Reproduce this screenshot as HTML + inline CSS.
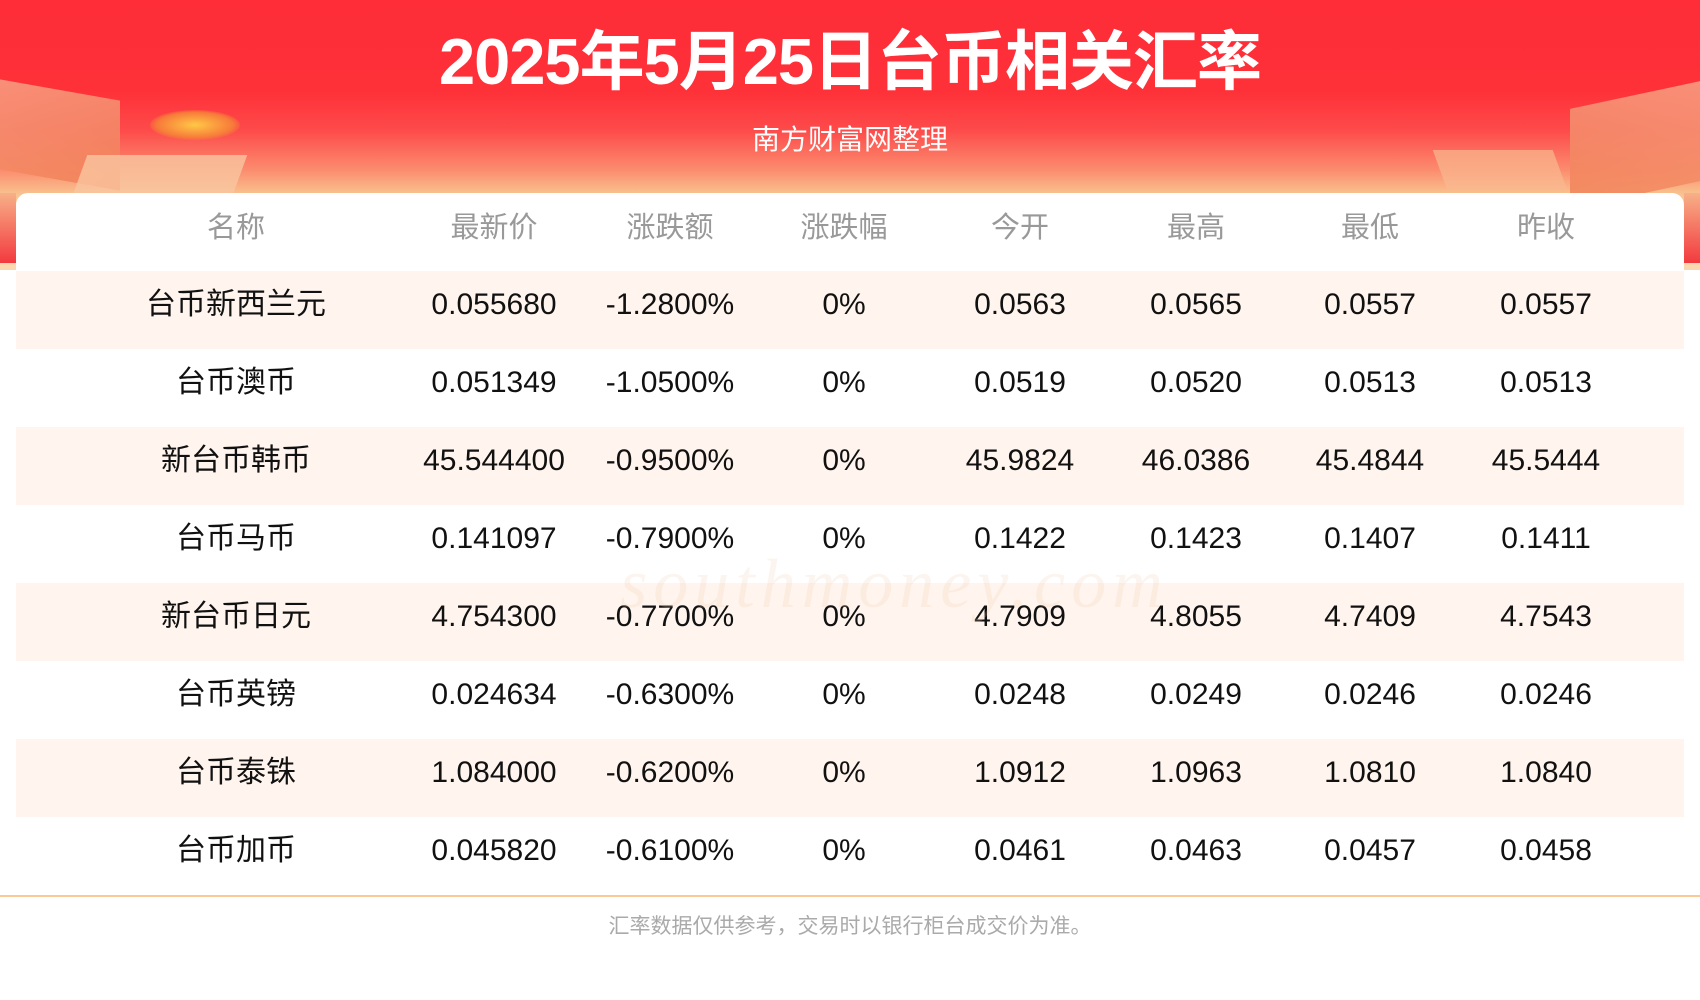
<!DOCTYPE html>
<html><head><meta charset="utf-8"><style>
html,body{margin:0;padding:0}
body{width:1700px;height:1000px;position:relative;overflow:hidden;background:#fff;font-family:"Liberation Sans","Noto Sans CJK SC",sans-serif}
.bg{position:absolute;left:0;top:0;width:1700px;height:270px;background:linear-gradient(180deg,#fe2d38 0px,#fe3038 90px,#fd4a4a 130px,#fb8c6e 170px,#f9c490 195px,#fbd9b0 270px)}
.title{position:absolute;left:0;width:1700px;top:22px;text-align:center;color:#fff;font-weight:bold;font-size:65px;line-height:80px;letter-spacing:-1px}
.sub{position:absolute;left:0;width:1700px;top:122px;text-align:center;color:#fff;font-size:28px;line-height:36px}
.card{position:absolute;left:16px;top:193px;width:1668px;height:720px;background:#fff;border-radius:12px 12px 0 0}
.row{position:absolute;left:16px;width:1668px;height:78px}
.alt{background:#fff5ee}
.c{position:absolute;top:-5px;transform:translateX(-50%);white-space:nowrap;font-size:30px;line-height:78px;color:#111}
.h .c{color:#999;top:-4px;font-size:29px}
.line{position:absolute;left:0;top:895px;width:1700px;height:2px;background:#fcc996}
.foot{position:absolute;left:0;width:1700px;top:912px;text-align:center;color:#aaa;font-size:21px;line-height:30px}
.wm{position:absolute;left:620px;top:545px;font-size:70px;color:rgba(240,200,170,0.2);font-family:"Liberation Serif",serif;font-style:italic;letter-spacing:6px}
</style></head><body>
<div class="bg"></div>
<div style="position:absolute;left:0;top:90px;width:120px;height:90px;background:linear-gradient(160deg,#f7a889,#f07a50);transform:skewY(10deg);opacity:.8"></div>
<div style="position:absolute;left:150px;top:110px;width:90px;height:30px;border-radius:50%;background:radial-gradient(#ffc845,#f77a3a 60%,transparent 75%)"></div>
<div style="position:absolute;left:80px;top:155px;width:160px;height:40px;background:#f9c5a0;opacity:.8;transform:skewX(-20deg)"></div>
<div style="position:absolute;left:1570px;top:95px;width:130px;height:100px;background:linear-gradient(200deg,#f7a889,#f07a50);transform:skewY(-12deg);opacity:.8"></div>
<div style="position:absolute;left:1440px;top:150px;width:120px;height:40px;background:#f9b890;opacity:.7;transform:skewX(20deg)"></div>
<div style="position:absolute;left:0;top:193px;width:16px;height:70px;background:linear-gradient(180deg,#f7b088,#f33a3f)"></div>
<div style="position:absolute;left:1684px;top:193px;width:16px;height:70px;background:linear-gradient(180deg,#f7b088,#f33a3f)"></div>
<div class="title">2025年5月25日台币相关汇率</div>
<div class="sub">南方财富网整理</div>
<div class="card"></div>
<div class="row h" style="top:193px">
<span class="c" style="left:220px">名称</span><span class="c" style="left:478px">最新价</span><span class="c" style="left:654px">涨跌额</span><span class="c" style="left:828px">涨跌幅</span><span class="c" style="left:1004px">今开</span><span class="c" style="left:1180px">最高</span><span class="c" style="left:1354px">最低</span><span class="c" style="left:1530px">昨收</span></div>

<div class="row alt" style="top:271px"><span class="c" style="left:220px">台币新西兰元</span><span class="c" style="left:478px">0.055680</span><span class="c" style="left:654px">-1.2800%</span><span class="c" style="left:828px">0%</span><span class="c" style="left:1004px">0.0563</span><span class="c" style="left:1180px">0.0565</span><span class="c" style="left:1354px">0.0557</span><span class="c" style="left:1530px">0.0557</span></div>
<div class="row" style="top:349px"><span class="c" style="left:220px">台币澳币</span><span class="c" style="left:478px">0.051349</span><span class="c" style="left:654px">-1.0500%</span><span class="c" style="left:828px">0%</span><span class="c" style="left:1004px">0.0519</span><span class="c" style="left:1180px">0.0520</span><span class="c" style="left:1354px">0.0513</span><span class="c" style="left:1530px">0.0513</span></div>
<div class="row alt" style="top:427px"><span class="c" style="left:220px">新台币韩币</span><span class="c" style="left:478px">45.544400</span><span class="c" style="left:654px">-0.9500%</span><span class="c" style="left:828px">0%</span><span class="c" style="left:1004px">45.9824</span><span class="c" style="left:1180px">46.0386</span><span class="c" style="left:1354px">45.4844</span><span class="c" style="left:1530px">45.5444</span></div>
<div class="row" style="top:505px"><span class="c" style="left:220px">台币马币</span><span class="c" style="left:478px">0.141097</span><span class="c" style="left:654px">-0.7900%</span><span class="c" style="left:828px">0%</span><span class="c" style="left:1004px">0.1422</span><span class="c" style="left:1180px">0.1423</span><span class="c" style="left:1354px">0.1407</span><span class="c" style="left:1530px">0.1411</span></div>
<div class="row alt" style="top:583px"><span class="c" style="left:220px">新台币日元</span><span class="c" style="left:478px">4.754300</span><span class="c" style="left:654px">-0.7700%</span><span class="c" style="left:828px">0%</span><span class="c" style="left:1004px">4.7909</span><span class="c" style="left:1180px">4.8055</span><span class="c" style="left:1354px">4.7409</span><span class="c" style="left:1530px">4.7543</span></div>
<div class="row" style="top:661px"><span class="c" style="left:220px">台币英镑</span><span class="c" style="left:478px">0.024634</span><span class="c" style="left:654px">-0.6300%</span><span class="c" style="left:828px">0%</span><span class="c" style="left:1004px">0.0248</span><span class="c" style="left:1180px">0.0249</span><span class="c" style="left:1354px">0.0246</span><span class="c" style="left:1530px">0.0246</span></div>
<div class="row alt" style="top:739px"><span class="c" style="left:220px">台币泰铢</span><span class="c" style="left:478px">1.084000</span><span class="c" style="left:654px">-0.6200%</span><span class="c" style="left:828px">0%</span><span class="c" style="left:1004px">1.0912</span><span class="c" style="left:1180px">1.0963</span><span class="c" style="left:1354px">1.0810</span><span class="c" style="left:1530px">1.0840</span></div>
<div class="row" style="top:817px"><span class="c" style="left:220px">台币加币</span><span class="c" style="left:478px">0.045820</span><span class="c" style="left:654px">-0.6100%</span><span class="c" style="left:828px">0%</span><span class="c" style="left:1004px">0.0461</span><span class="c" style="left:1180px">0.0463</span><span class="c" style="left:1354px">0.0457</span><span class="c" style="left:1530px">0.0458</span></div>
<div class="wm">southmoney.com</div>
<div class="line"></div>
<div class="foot">汇率数据仅供参考，交易时以银行柜台成交价为准。</div>
</body></html>
